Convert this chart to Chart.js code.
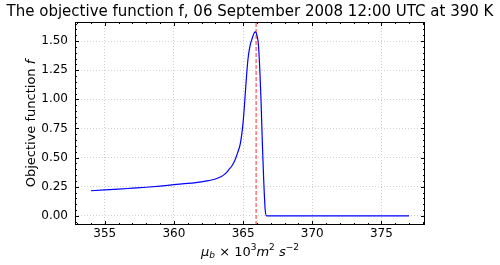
<!DOCTYPE html>
<html>
<head>
  <title>Objective function</title>
  <style>
    body { margin: 0; background: #fff; }
  </style>
</head>
<body>
  <canvas id="chart" width="500" height="265"></canvas>

  <script src="https://cdn.jsdelivr.net/npm/chart.js@4"></script>
  <script>
    // values
    const mu = [354.0, 355.0, 356.0, 357.0, 358.0, 359.0, 360.0, 361.0, 362.0, 362.5, 363.0, 363.4, 363.7,
                364.0, 364.2, 364.4, 364.6, 364.8, 365.0, 365.1, 365.2, 365.35, 365.5, 365.65, 365.8, 365.9,
                366.0, 366.1, 366.2, 366.3, 366.4, 366.5, 366.6, 366.7, 377.0];
    const f = [0.215, 0.222, 0.229, 0.237, 0.245, 0.255, 0.267, 0.278, 0.292, 0.302, 0.316, 0.335, 0.36,
               0.40, 0.43, 0.474, 0.54, 0.62, 0.80, 0.95, 1.12, 1.34, 1.46, 1.52, 1.57, 1.58,
               1.55, 1.48, 1.28, 0.98, 0.60, 0.28, 0.05, 0.0, 0.0];
    const bestMu = 365.94;
    const xTicks = [355, 360, 365, 370, 375];
    const yTicks = [0, 0.25, 0.5, 0.75, 1.0, 1.25, 1.5];
    const xRange = [352.85, 378.15];
    const yRange = [-0.079, 1.664];
    const titleText = 'The objective function f, 06 September 2008 12:00 UTC at 390 K';

    const font = "'DejaVu Sans', sans-serif";

    // title, inward ticks on all sides, box, and the mixed-style axis labels
    const decor = {
      id: 'decor',
      afterDraw(chart) {
        const ctx = chart.ctx;
        const a = chart.chartArea;
        const x = chart.scales.x, y = chart.scales.y;
        ctx.save();
        ctx.strokeStyle = '#000';
        ctx.lineWidth = 1;
        ctx.strokeRect(a.left + 0.5, a.top + 0.5, a.right - a.left - 1, a.bottom - a.top - 1);
        ctx.beginPath();
        for (let v = 353; v <= 378; v++) {
          const px = Math.round(x.getPixelForValue(v)) + 0.5;
          const len = v % 5 === 0 ? 4 : 2;
          ctx.moveTo(px, a.bottom); ctx.lineTo(px, a.bottom - len);
          ctx.moveTo(px, a.top); ctx.lineTo(px, a.top + len);
        }
        for (let i = -1; i <= 33; i++) {
          const v = i * 0.05;
          const py = Math.round(y.getPixelForValue(v)) + 0.5;
          if (py < a.top || py > a.bottom) continue;
          const len = i % 5 === 0 ? 4 : 2;
          ctx.moveTo(a.left, py); ctx.lineTo(a.left + len, py);
          ctx.moveTo(a.right, py); ctx.lineTo(a.right - len, py);
        }
        ctx.stroke();

        ctx.fillStyle = '#000';
        ctx.textBaseline = 'middle';
        // title
        ctx.font = '15px ' + font;
        ctx.textAlign = 'center';
        ctx.fillText(titleText, 250, 12);

        // y label
        ctx.textAlign = 'left';
        const parts = [['Objective function ', 'normal'], ['f', 'italic']];
        ctx.translate(32, (a.top + a.bottom) / 2);
        ctx.rotate(-Math.PI / 2);
        let w = 0;
        parts.forEach(p => { ctx.font = p[1] + ' 13px ' + font; w += ctx.measureText(p[0]).width; });
        let cx = -w / 2;
        parts.forEach(p => {
          ctx.font = p[1] + ' 13px ' + font;
          ctx.fillText(p[0], cx, 0);
          cx += ctx.measureText(p[0]).width;
        });
        ctx.setTransform(1, 0, 0, 1, 0, 0);

        // x label: mu_b x 10^3 m^2 s^-2
        const xp = [
          ['\u03bc', 'italic', 13, 0], ['b', 'italic', 9, 3], [' \u00d7 10', 'normal', 13, 0],
          ['3', 'normal', 9, -5], ['m', 'italic', 13, 0], ['2', 'normal', 9, -5],
          [' s', 'italic', 13, 0], ['\u22122', 'normal', 9, -5]
        ];
        w = 0;
        xp.forEach(p => { ctx.font = p[1] + ' ' + p[2] + 'px ' + font; w += ctx.measureText(p[0]).width; });
        cx = (a.left + a.right) / 2 - w / 2;
        xp.forEach(p => {
          ctx.font = p[1] + ' ' + p[2] + 'px ' + font;
          ctx.fillText(p[0], cx, 253 + p[3]);
          cx += ctx.measureText(p[0]).width;
        });
        ctx.restore();
      }
    };

    new Chart('chart', {
      type: 'scatter',
      data: {
        datasets: [{
          data: mu.map((v, i) => ({x: v, y: f[i]})),
          showLine: true,
          borderColor: '#0000ff',
          borderWidth: 1.2,
          pointRadius: 0,
          cubicInterpolationMode: 'monotone'
        }, {
          data: [{x: bestMu, y: yRange[0]}, {x: bestMu, y: yRange[1]}],
          showLine: true,
          borderColor: '#ff3030',
          borderWidth: 1,
          borderDash: [4, 2],
          pointRadius: 0
        }]
      },
      options: {
        responsive: false,
        animation: false,
        layout: {padding: {top: 22, right: 75, bottom: 0, left: 0}},
        plugins: {
          legend: {display: false},
          tooltip: {enabled: false}
        },
        scales: {
          x: {
            type: 'linear',
            min: xRange[0], max: xRange[1],
            afterFit: s => { s.height = 40; },
            afterBuildTicks: s => { s.ticks = xTicks.map(v => ({value: v})); },
            ticks: {color: '#000', font: {family: font, size: 12}, padding: 2, maxRotation: 0,
                    callback: v => String(v)},
            grid: {color: '#d0d0d0', drawTicks: false},
            border: {display: false, dash: [1, 2]}
          },
          y: {
            type: 'linear',
            min: yRange[0], max: yRange[1],
            afterFit: s => { s.width = 75; },
            afterBuildTicks: s => { s.ticks = yTicks.map(v => ({value: v})); },
            ticks: {color: '#000', font: {family: font, size: 12}, padding: 7,
                    callback: v => v.toFixed(2)},
            grid: {color: '#d0d0d0', drawTicks: false},
            border: {display: false, dash: [1, 2]}
          }
        }
      },
      plugins: [decor]
    });
  </script>
</body>
</html>
